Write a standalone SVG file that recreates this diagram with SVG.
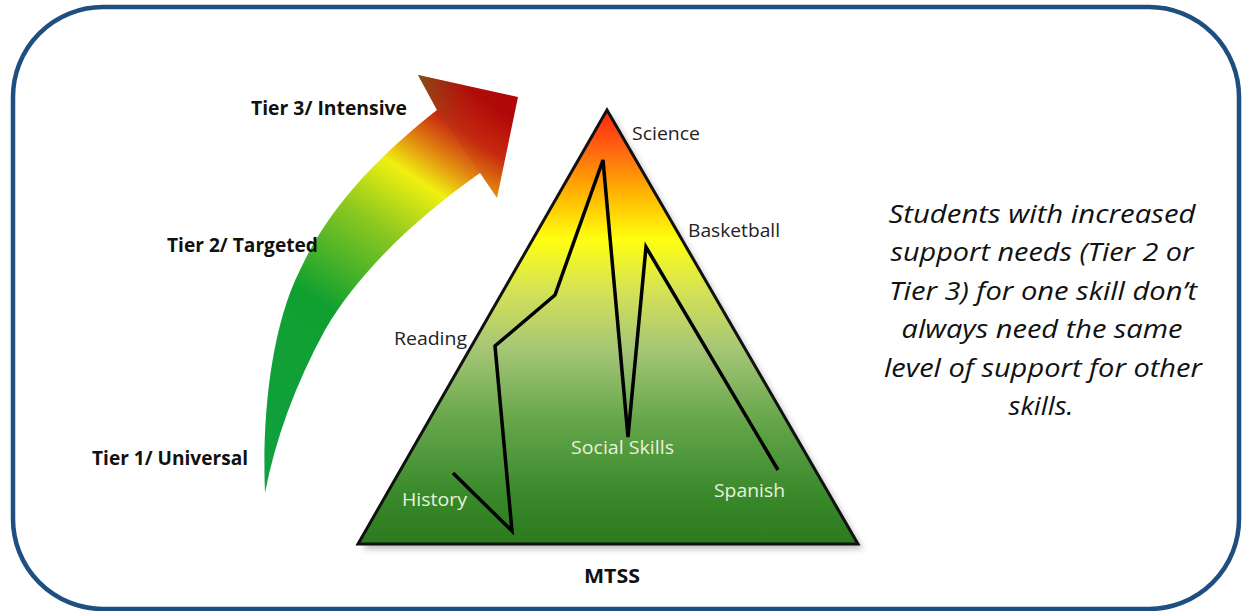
<svg xmlns="http://www.w3.org/2000/svg" width="1242" height="611" viewBox="0 0 1242 611">
<style>
.lbl{font-family:"Open Sans","Liberation Sans",Arial,sans-serif;font-size:19px;fill:#222}
.tier{font-family:"Open Sans","Liberation Sans",Arial,sans-serif;font-size:19.5px;font-weight:bold;fill:#111}
.wl{fill:#e8f2dc}
.note{font-family:"Open Sans","Liberation Sans",Arial,sans-serif;font-size:26px;font-style:italic;fill:#111;text-anchor:middle}
</style>
<defs>
<linearGradient id="triG" x1="0" y1="108" x2="0" y2="545" gradientUnits="userSpaceOnUse">
<stop offset="0" stop-color="#ff2010"/>
<stop offset="0.1" stop-color="#ff6a10"/>
<stop offset="0.2" stop-color="#ffb800"/>
<stop offset="0.3" stop-color="#ffff10"/>
<stop offset="0.42" stop-color="#d4e256"/>
<stop offset="0.55" stop-color="#a6c676"/>
<stop offset="0.72" stop-color="#64a54a"/>
<stop offset="0.88" stop-color="#3a8a2c"/>
<stop offset="1" stop-color="#2a7a1e"/>
</linearGradient>
<linearGradient id="arrG" x1="262" y1="470" x2="500" y2="110" gradientUnits="userSpaceOnUse">
<stop offset="0" stop-color="#10a040"/>
<stop offset="0.4" stop-color="#10a030"/>
<stop offset="0.62" stop-color="#8cc820"/>
<stop offset="0.76" stop-color="#f0f010"/>
<stop offset="0.84" stop-color="#e08010"/>
<stop offset="0.91" stop-color="#c82a10"/>
<stop offset="1" stop-color="#b00808"/>
</linearGradient>
<linearGradient id="headShade" x1="418" y1="75" x2="518" y2="97" gradientUnits="userSpaceOnUse">
<stop offset="0" stop-color="#6a6a20" stop-opacity="0.7"/>
<stop offset="0.5" stop-color="#a03010" stop-opacity="0.2"/>
<stop offset="1" stop-color="#c00000" stop-opacity="0"/>
</linearGradient>
<filter id="shadow" x="-10%" y="-10%" width="120%" height="120%">
<feGaussianBlur stdDeviation="3"/>
</filter>
</defs>

<rect id="frame" x="13" y="7" width="1226" height="602" rx="90" ry="90" fill="#ffffff" stroke="#1f4e80" stroke-width="4.5"/>

<g id="arrow">
<path d="M265,493 C262,420 270,330 300,270 C330,205 380,155 437,110 L418,75 L518,97 L497,198 L480,173 C420,215 360,270 325,330 C295,385 275,440 265,493 Z" fill="url(#arrG)"/>
<path d="M418,75 L518,97 L497,198 L480,173 L437,110 Z" fill="url(#headShade)"/>
</g>

<g id="pyramid">
<polygon points="611,114 363,549 863,549" fill="#888" opacity="0.55" filter="url(#shadow)"/>
<polygon points="607,110 358,544 858,544" fill="url(#triG)" stroke="#111" stroke-width="3" stroke-linejoin="miter"/>
</g>

<g id="connectors">
<polyline points="453,473 512,531 495,346 555,295 603,160 628,437 646,247 778,470" fill="none" stroke="#000" stroke-width="3.5" stroke-linejoin="miter"/>
</g>

<g id="tier3"><text class="tier" x="251" y="115" textLength="156" lengthAdjust="spacingAndGlyphs">Tier 3/ Intensive</text></g>
<g id="tier2"><text class="tier" x="167" y="252" textLength="151" lengthAdjust="spacingAndGlyphs">Tier 2/ Targeted</text></g>
<g id="tier1"><text class="tier" x="92" y="465" textLength="156" lengthAdjust="spacingAndGlyphs">Tier 1/ Universal</text></g>

<g id="science"><text class="lbl" x="632" y="140" textLength="68" lengthAdjust="spacingAndGlyphs">Science</text></g>
<g id="basketball"><text class="lbl" x="688" y="237" textLength="92" lengthAdjust="spacingAndGlyphs">Basketball</text></g>
<g id="reading"><text class="lbl" x="394" y="345" textLength="73" lengthAdjust="spacingAndGlyphs">Reading</text></g>
<g id="social"><text class="lbl wl" x="571" y="454" textLength="103" lengthAdjust="spacingAndGlyphs">Social Skills</text></g>
<g id="history"><text class="lbl wl" x="402" y="506" textLength="65" lengthAdjust="spacingAndGlyphs">History</text></g>
<g id="spanish"><text class="lbl wl" x="714" y="497" textLength="71" lengthAdjust="spacingAndGlyphs">Spanish</text></g>
<g id="mtss"><text class="tier" x="584" y="583" textLength="56" lengthAdjust="spacingAndGlyphs">MTSS</text></g>

<g id="note">
<text class="note" x="1042" y="223" textLength="307" lengthAdjust="spacingAndGlyphs">Students with increased</text>
<text class="note" x="1042" y="261" textLength="303" lengthAdjust="spacingAndGlyphs">support needs (Tier 2 or</text>
<text class="note" x="1043" y="300" textLength="308" lengthAdjust="spacingAndGlyphs">Tier 3) for one skill don’t</text>
<text class="note" x="1042" y="338" textLength="281" lengthAdjust="spacingAndGlyphs">always need the same</text>
<text class="note" x="1043" y="377" textLength="318" lengthAdjust="spacingAndGlyphs">level of support for other</text>
<text class="note" x="1041" y="415" textLength="65" lengthAdjust="spacingAndGlyphs">skills.</text>
</g>
</svg>
